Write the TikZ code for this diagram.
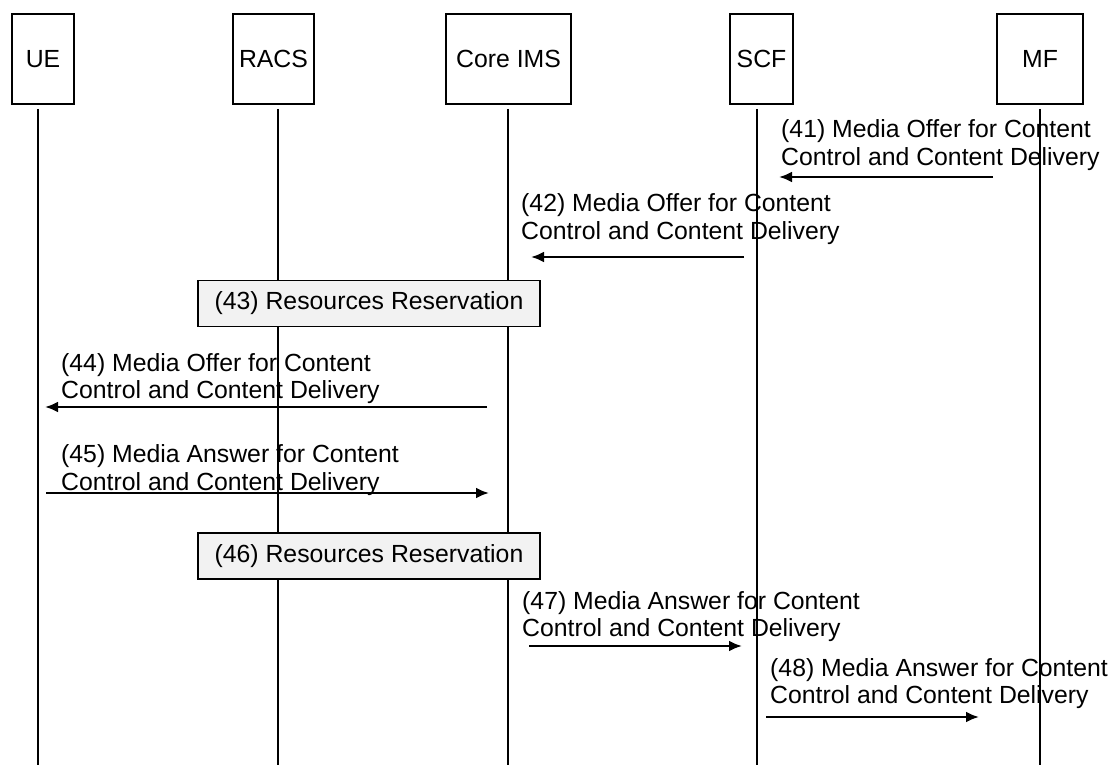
\documentclass[tikz,border=0pt]{standalone}
\usepackage{fontspec}
\setmainfont{Liberation Sans}
\usetikzlibrary{arrows.meta,positioning,calc}
\tikzstyle{every node}=[font=\fontsize{24.8}{27.5}\selectfont, inner sep=0pt]
\tikzstyle{entity} = [draw, line width=1.3pt, minimum height=90pt]
\tikzstyle{lifeline} = [draw, line width=1.2pt]
\tikzstyle{msg} = [draw, line width=2.4pt, -{Latex[length=13pt,width=11pt]}]
\tikzstyle{msgtext} = [anchor=west, align=left]
\tikzstyle{reserve} = [draw, line width=1.3pt, fill=black!5, minimum width=342pt, minimum height=46pt]

\begin{document}
\begin{tikzpicture}[x=1pt,y=-1pt]
    \useasboundingbox (0,0) rectangle (1111,765);

    \node[entity, minimum width=62pt] (ue) at (43,59) {UE};
    \node[entity, minimum width=81pt] (racs) at (273.5,59) {RACS};
    \node[entity, minimum width=125pt] (ims) at (508.5,59) {Core IMS};
    \node[entity, minimum width=63pt] (scf) at (761.5,59) {SCF};
    \node[entity, minimum width=86pt] (mf) at (1040,59) {MF};

    \foreach \name/\x in {ue/38, racs/278, ims/508, scf/757, mf/1040} {
        \coordinate (\name Top) at (\x,109);
        \coordinate (\name Bot) at (\x,765);
        \draw[lifeline] (\name Top) -- (\name Bot);
    }

    % (41) MF -> SCF
    \coordinate (m41From) at (993,177);
    \coordinate (m41To) at (779,177);
    \draw[msg] (m41From) -- (m41To);
    \node[msgtext] (t41) at (781,145) {(41) Media Offer for Content\\Control and Content Delivery};

    % (42) SCF -> Core IMS
    \coordinate (m42From) at (744,257);
    \coordinate (m42To) at (531,257);
    \draw[msg] (m42From) -- (m42To);
    \node[msgtext] (t42) at (521,219) {(42) Media Offer for Content\\Control and Content Delivery};

    \node[reserve] (r43) at (369,303.5) {(43) Resources Reservation};

    % (44) Core IMS -> UE
    \coordinate (m44From) at (487,407);
    \coordinate (m44To) at (45,407);
    \draw[msg] (m44From) -- (m44To);
    \node[msgtext] (t44) at (61,378.5) {(44) Media Offer for Content\\Control and Content Delivery};

    % (45) UE -> Core IMS
    \coordinate (m45From) at (46,493);
    \coordinate (m45To) at (489,493);
    \draw[msg] (m45From) -- (m45To);
    \node[msgtext] (t45) at (61,470) {(45) Media Answer for Content\\Control and Content Delivery};

    \node[reserve] (r46) at (369,556) {(46) Resources Reservation};

    % (47) Core IMS -> SCF
    \coordinate (m47From) at (529,646);
    \coordinate (m47To) at (742,646);
    \draw[msg] (m47From) -- (m47To);
    \node[msgtext] (t47) at (522,616.5) {(47) Media Answer for Content\\Control and Content Delivery};

    % (48) SCF -> MF
    \coordinate (m48From) at (766,717);
    \coordinate (m48To) at (979,717);
    \draw[msg] (m48From) -- (m48To);
    \node[msgtext] (t48) at (770,683.5) {(48) Media Answer for Content\\Control and Content Delivery};

\end{tikzpicture}
\end{document}
